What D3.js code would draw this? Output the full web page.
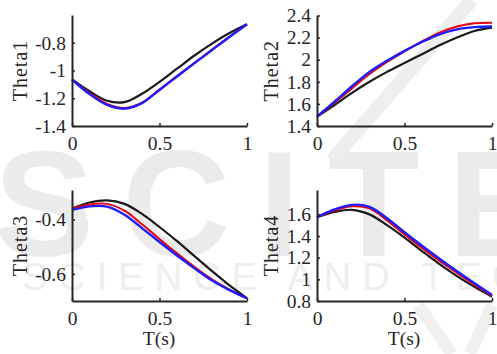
<!DOCTYPE html>
<html>
<head>
    <meta charset="UTF-8">
    <title>Theta plots</title>
    <script src="https://d3js.org/d3.v7.min.js"></script>
    <style>
        body { margin: 0; background: #fff; }
        svg { display: block; }
        .serif text, text.serif { font-family: "Liberation Serif", "Times New Roman", serif; }
    </style>
</head>
<body>
    <div id="chart"></div>
    <script>
        // time samples shared by every series
        var tValues = [0, 0.1, 0.2, 0.3, 0.4, 0.5, 0.6, 0.7, 0.8, 0.9, 1];

        // Theta1
        var theta1Black = [-1.065, -1.15, -1.218, -1.228, -1.168, -1.082, -0.987, -0.892, -0.806, -0.73, -0.667];
        var theta1Red   = [-1.065, -1.162, -1.24, -1.27, -1.232, -1.137, -1.04, -0.945, -0.85, -0.756, -0.667];
        var theta1Blue  = [-1.065, -1.17, -1.248, -1.275, -1.235, -1.14, -1.043, -0.947, -0.852, -0.758, -0.667];

        // Theta2
        var theta2Black = [1.485, 1.59, 1.70, 1.80, 1.89, 1.97, 2.05, 2.13, 2.20, 2.26, 2.29];
        var theta2Red   = [1.485, 1.61, 1.74, 1.87, 1.98, 2.075, 2.165, 2.245, 2.30, 2.33, 2.335];
        var theta2Blue  = [1.485, 1.62, 1.76, 1.89, 1.99, 2.08, 2.16, 2.23, 2.275, 2.295, 2.30];

        // Theta3
        var theta3Black = [-0.36, -0.338, -0.33, -0.343, -0.38, -0.428, -0.48, -0.535, -0.59, -0.643, -0.69];
        var theta3Red   = [-0.36, -0.345, -0.343, -0.368, -0.418, -0.472, -0.525, -0.575, -0.62, -0.658, -0.69];
        var theta3Blue  = [-0.365, -0.352, -0.353, -0.383, -0.432, -0.483, -0.533, -0.58, -0.625, -0.66, -0.69];

        // Theta4
        var theta4Black = [1.573, 1.622, 1.642, 1.6, 1.5, 1.385, 1.26, 1.14, 1.03, 0.93, 0.84];
        var theta4Red   = [1.573, 1.635, 1.675, 1.655, 1.545, 1.415, 1.29, 1.17, 1.06, 0.95, 0.845];
        var theta4Blue  = [1.573, 1.645, 1.688, 1.67, 1.565, 1.435, 1.31, 1.19, 1.075, 0.963, 0.855];

        // tick labels
        var xTicks = [0, 0.5, 1];
        var yTicks1 = [-1.4, -1.2, -1, -0.8];
        var yTicks2 = [1.4, 1.6, 1.8, 2, 2.2, 2.4];
        var yTicks3 = [-0.6, -0.4];
        var yTicks4 = [0.8, 1, 1.2, 1.4, 1.6];

        var panels = [
            {label: "Theta1", black: theta1Black, red: theta1Red, blue: theta1Blue, ticks: yTicks1,
             domain: [-1.4, -0.6], x0: 72, x1: 247, y0: 15, y1: 126, labelX: 27, xlabel: false},
            {label: "Theta2", black: theta2Black, red: theta2Red, blue: theta2Blue, ticks: yTicks2,
             domain: [1.4, 2.4], x0: 317, x1: 492, y0: 15.5, y1: 126, labelX: 278, xlabel: false},
            {label: "Theta3", black: theta3Black, red: theta3Red, blue: theta3Blue, ticks: yTicks3,
             domain: [-0.7, -0.292], x0: 72, x1: 247, y0: 190, y1: 301, labelX: 27, xlabel: true},
            {label: "Theta4", black: theta4Black, red: theta4Red, blue: theta4Blue, ticks: yTicks4,
             domain: [0.8, 1.825], x0: 317, x1: 492, y0: 190, y1: 301, labelX: 278, xlabel: true}
        ];

        var width = 497, height = 354;
        var font = '"Liberation Serif", "Times New Roman", serif';

        var svg = d3.select("#chart")
            .append("svg")
            .attr("width", width)
            .attr("height", height);

        // faint publisher watermark in the background
        var wm = svg.append("g").attr("class", "watermark");
        wm.append("text")
            .attr("x", -6).attr("y", 256)
            .style("font-family", '"Liberation Sans", Arial, sans-serif')
            .attr("font-weight", "bold")
            .attr("font-size", 150)
            .attr("letter-spacing", 28)
            .attr("fill", "#ebebeb")
            .text("SCITE");
        wm.append("line")
            .attr("x1", 472).attr("y1", 0).attr("x2", 332).attr("y2", 160)
            .attr("stroke", "#eeeeee").attr("stroke-width", 14);
        wm.append("text")
            .attr("x", 22).attr("y", 290)
            .style("font-family", '"Liberation Sans", Arial, sans-serif')
            .attr("font-size", 38)
            .attr("letter-spacing", 11)
            .attr("fill", "#eeeeee")
            .text("SCIENCE AND TECHNOLOGY");
        wm.append("path")
            .attr("d", "M418,305 L452,354 M492,305 L470,354")
            .attr("fill", "none")
            .attr("stroke", "#f0f0f0").attr("stroke-width", 12);

        panels.forEach(function(p) {
            var x = d3.scaleLinear().domain([0, 1]).range([p.x0, p.x1]);
            var y = d3.scaleLinear().domain(p.domain).range([p.y1, p.y0]);

            var g = svg.append("g").attr("class", "serif");

            var line = d3.line()
                .x(function(d, i) { return x(tValues[i]); })
                .y(function(d) { return y(d); })
                .curve(d3.curveCatmullRom.alpha(0.5));

            g.append("path").datum(p.black)
                .attr("fill", "none").attr("stroke", "#1a1a1a").attr("stroke-width", 2.2)
                .attr("d", line);
            g.append("path").datum(p.red)
                .attr("fill", "none").attr("stroke", "#e8000b").attr("stroke-width", 2)
                .attr("d", line);
            g.append("path").datum(p.blue)
                .attr("fill", "none").attr("stroke", "#1c1cff").attr("stroke-width", 2.4)
                .attr("d", line);

            // x axis
            var xAxis = d3.axisBottom(x)
                .tickValues(xTicks)
                .tickSizeInner(-3)
                .tickSizeOuter(0)
                .tickPadding(10.5)
                .tickFormat(function(d) { return String(d); });
            var gx = g.append("g")
                .attr("transform", "translate(0," + p.y1 + ")")
                .call(xAxis);

            // y axis
            var yAxis = d3.axisLeft(y)
                .tickValues(p.ticks)
                .tickSizeInner(-3)
                .tickSizeOuter(0)
                .tickPadding(6)
                .tickFormat(function(d) { return String(d); });
            var gy = g.append("g")
                .attr("transform", "translate(" + p.x0 + ",0)")
                .call(yAxis);

            [gx, gy].forEach(function(a) {
                a.attr("font-family", null).attr("font-size", null);
                a.select(".domain").attr("stroke", "#262626").attr("stroke-width", 2);
                a.selectAll(".tick line").attr("stroke", "#262626").attr("stroke-width", 1.5);
                a.selectAll(".tick text")
                    .attr("fill", "#262626")
                    .style("font-family", font)
                    .style("font-size", "19.5px");
            });

            g.append("text")
                .attr("transform", "translate(" + p.labelX + "," + ((p.y0 + p.y1) / 2) + ") rotate(-90)")
                .attr("text-anchor", "middle")
                .style("font-family", font)
                .style("font-size", "20px")
                .attr("letter-spacing", 1)
                .attr("fill", "#262626")
                .text(p.label);

            if (p.xlabel) {
                g.append("text")
                    .attr("x", (p.x0 + p.x1) / 2 - 0.5)
                    .attr("y", 345)
                    .attr("text-anchor", "middle")
                    .style("font-family", font)
                    .style("font-size", "19.5px")
                    .attr("fill", "#262626")
                    .text("T(s)");
            }
        });
    </script>
</body>
</html>
